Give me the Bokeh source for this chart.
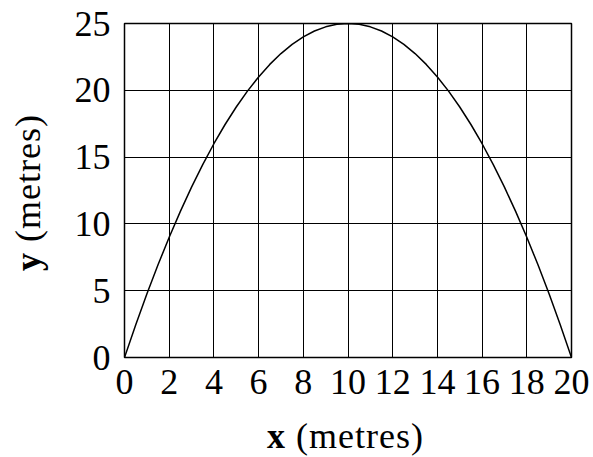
from bokeh.plotting import figure
from bokeh.models import Range1d, FixedTicker, Div
from bokeh.layouts import row, column
from bokeh.embed import file_html
from bokeh.resources import INLINE

# Data
x_vals = [0, 0.5, 1, 1.5, 2, 2.5, 3, 3.5, 4, 4.5, 5, 5.5, 6, 6.5, 7, 7.5, 8, 8.5, 9, 9.5, 10,
          10.5, 11, 11.5, 12, 12.5, 13, 13.5, 14, 14.5, 15, 15.5, 16, 16.5, 17, 17.5, 18, 18.5, 19, 19.5, 20]
y_vals = [0, 2.44, 4.75, 6.94, 9, 10.94, 12.75, 14.44, 16, 17.44, 18.75, 19.94, 21, 21.94, 22.75, 23.44,
          24, 24.44, 24.75, 24.94, 25,
          24.94, 24.75, 24.44, 24, 23.44, 22.75, 21.94, 21, 19.94, 18.75, 17.44, 16, 14.44, 12.75, 10.94,
          9, 6.94, 4.75, 2.44, 0]
x_ticks = [0, 2, 4, 6, 8, 10, 12, 14, 16, 18, 20]
y_ticks = [0, 5, 10, 15, 20, 25]
x_title_var, y_title_var, unit_text = "x", "y", "(metres)"

FONT = "Liberation Serif"

p = figure(width=537, height=400, output_backend="svg", toolbar_location=None,
           x_range=Range1d(0, 20), y_range=Range1d(0, 25),
           min_border_left=68, min_border_right=22, min_border_top=23, min_border_bottom=43,
           margin=0)
p.line(x_vals, y_vals, line_color="black", line_width=1.5)

for ax in (p.xaxis[0], p.yaxis[0]):
    ax.axis_line_color = None
    ax.major_tick_line_color = None
    ax.minor_tick_line_color = None
    ax.major_label_text_font = FONT
    ax.major_label_text_font_size = "36px"
    ax.major_label_text_color = "black"
p.xaxis[0].ticker = FixedTicker(ticks=x_ticks)
p.yaxis[0].ticker = FixedTicker(ticks=y_ticks)
p.xaxis[0].major_label_standoff = 6
p.yaxis[0].major_label_standoff = 8

for g in (p.xgrid[0], p.ygrid[0]):
    g.grid_line_color = "black"
    g.grid_line_alpha = 1.0
    g.grid_line_width = 1
p.xgrid[0].ticker = FixedTicker(ticks=x_ticks)
p.ygrid[0].ticker = FixedTicker(ticks=y_ticks)

p.outline_line_color = "black"
p.outline_line_width = 1.5
p.outline_line_alpha = 1.0
p.background_fill_color = "white"
p.border_fill_color = "white"

base_css = (f"font-family:'{FONT}'; font-size:36px; line-height:36px; letter-spacing:1px; "
            "color:black; white-space:nowrap;")

xdiv = Div(width=537, height=57, margin=0,
           text=(f"<div style=\"{base_css} margin-left:211px; margin-top:18px;\">"
                 f"<b>{x_title_var}</b> {unit_text}</div>"))
ydiv = Div(width=56, height=457, margin=0,
           text=(f"<div style=\"{base_css} margin-left:10px; margin-top:271px; "
                 "transform-origin:0 0; transform:rotate(-90deg); width:200px;\">"
                 f"<b>{y_title_var}</b> {unit_text}</div>"))

layout = row(ydiv, column(p, xdiv, spacing=0), spacing=0)

open("out.html", "w").write(file_html(layout, INLINE))
